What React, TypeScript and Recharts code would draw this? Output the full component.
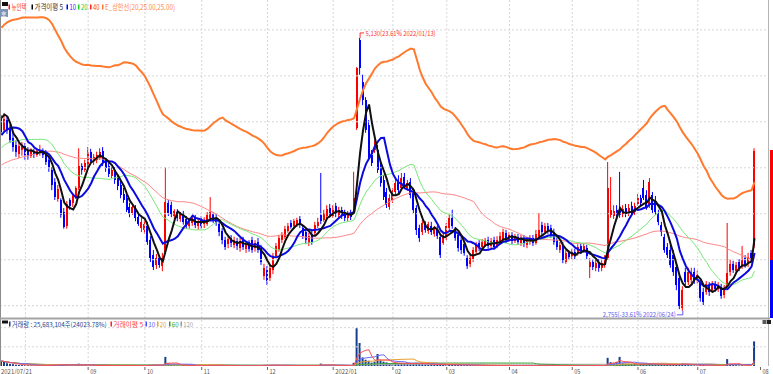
import React from 'react';
import { ComposedChart, Bar, Line, XAxis, YAxis, ReferenceLine, ReferenceDot } from 'recharts';

// closes before 2021/07/21, read back from where the 5/10/20/40 averages start
const priorCloses = [
  3800, 3820, 3850, 3790, 3840, 3880, 3860, 3900, 3870, 3830,
  3880, 3910, 3890, 3850, 3870, 3920, 3900, 3880, 3910, 3940,
  3900, 3960, 4010, 4050, 4030, 4080, 4100, 4060, 4090, 4120,
  4150, 4110, 4150, 4120, 4130, 4165, 4280, 4420, 4560, 4605,
];

const opens = [
  4435, 4330, 4415, 4345, 4260, 4200, 4120, 4155, 4190, 4155,
  4105, 4145, 4110, 4130, 4145, 4130, 4070, 3980, 3875, 3730,
  3720, 3615, 3495, 3720, 3695, 3745, 3825, 4015, 3980, 4015,
  4140, 4060, 4070, 4085, 4145, 4050, 4015, 3930, 3980, 3910,
  3850, 3770, 3735, 3660, 3605, 3650, 3570, 3475, 3460, 3495,
  3370, 3240, 3155, 3215, 3145, 3270, 3695, 3675, 3580, 3615,
  3555, 3590, 3555, 3495, 3520, 3565, 3495, 3545, 3510, 3510,
  3565, 3600, 3565, 3510, 3450, 3370, 3335, 3390, 3330, 3365,
  3300, 3370, 3295, 3355, 3370, 3300, 3355, 3300, 3060, 3110,
  3040, 3110, 3235, 3285, 3370, 3400, 3450, 3520, 3495, 3510,
  3555, 3475, 3440, 3345, 3425, 3435, 3495, 3590, 3545, 3580,
  3650, 3580, 3670, 3590, 3635, 3605, 3565, 3605, 3615, 4345,
  5110, 4745, 4590, 4375, 4110, 4155, 4155, 4000, 3895, 3790,
  3660, 3720, 3790, 3895, 3825, 3920, 3825, 3875, 3790, 3650,
  3475, 3440, 3510, 3450, 3495, 3425, 3470, 3400, 3345, 3390,
  3475, 3565, 3460, 3415, 3370, 3335, 3215, 3165, 3205, 3270,
  3345, 3310, 3330, 3370, 3320, 3370, 3320, 3345, 3370, 3435,
  3370, 3415, 3365, 3400, 3345, 3390, 3330, 3355, 3390, 3345,
  3405, 3505, 3440, 3495, 3475, 3440, 3370, 3285, 3330, 3180,
  3260, 3225, 3270, 3260, 3320, 3275, 3300, 3135, 3180, 3130,
  3180, 3130, 3155, 3215, 3590, 3580, 3635, 3650, 3600, 3650,
  3600, 3670, 3615, 3685, 3735, 3825, 3765, 3675, 3765, 3720,
  3610, 3505, 3400, 3310, 3285, 3240, 3135, 3040, 2780, 3095,
  3005, 3025, 3095, 3025, 3000, 2920, 2920, 2980, 2935, 2990,
  2945, 2965, 2895, 2965, 3095, 3165, 3100, 3180, 3145, 3215,
  3165, 3260, 3320,
];

const highs = [
  4460, 4475, 4450, 4375, 4310, 4240, 4215, 4225, 4215, 4180,
  4170, 4165, 4170, 4200, 4170, 4155, 4095, 4005, 3910, 3850,
  3735, 3650, 3710, 3735, 3780, 3840, 4170, 4040, 4070, 4180,
  4165, 4120, 4140, 4170, 4180, 4085, 4040, 4005, 4005, 3945,
  3895, 3825, 3765, 3695, 3685, 3675, 3605, 3565, 3545, 3530,
  3405, 3285, 3250, 3240, 3260, 4005, 3720, 3705, 3640, 3640,
  3615, 3625, 3580, 3565, 3590, 3590, 3555, 3580, 3570, 3615,
  3745, 3615, 3600, 3535, 3475, 3400, 3405, 3415, 3400, 3390,
  3390, 3400, 3355, 3370, 3400, 3370, 3390, 3330, 3165, 3145,
  3155, 3260, 3345, 3415, 3440, 3495, 3520, 3545, 3555, 3565,
  3580, 3495, 3470, 3435, 3450, 3530, 3565, 3955, 3635, 3675,
  3685, 3675, 3695, 3660, 3660, 3635, 3625, 3635, 3965, 4875,
  5130, 4810, 4615, 4415, 4155, 4240, 4200, 4040, 3935, 3825,
  3770, 3825, 3910, 3935, 3955, 3955, 3895, 3910, 3825, 3675,
  3505, 3545, 3535, 3530, 3530, 3495, 3495, 3425, 3440, 3520,
  3590, 3635, 3485, 3450, 3405, 3365, 3240, 3240, 3310, 3355,
  3370, 3380, 3390, 3400, 3390, 3400, 3405, 3440, 3470, 3460,
  3440, 3440, 3425, 3425, 3415, 3415, 3400, 3415, 3415, 3460,
  3605, 3530, 3520, 3520, 3505, 3470, 3405, 3355, 3355, 3285,
  3285, 3295, 3295, 3335, 3345, 3345, 3330, 3215, 3205, 3200,
  3205, 3200, 3240, 4050, 3920, 3675, 3675, 3965, 3675, 3685,
  3685, 3705, 3695, 3770, 3765, 3895, 3805, 3910, 3790, 3755,
  3635, 3530, 3425, 3345, 3330, 3285, 3180, 3075, 2970, 3130,
  3130, 3130, 3130, 3105, 3025, 2955, 3015, 3005, 3015, 3015,
  3005, 2990, 2980, 3520, 3200, 3190, 3180, 3205, 3320, 3240,
  3260, 3285, 4170,
];

const lows = [
  4285, 4310, 4295, 4215, 4140, 4095, 4085, 4105, 4070, 4070,
  4085, 4085, 4095, 4105, 4085, 4025, 3965, 3805, 3720, 3705,
  3565, 3470, 3470, 3635, 3660, 3730, 3805, 3940, 3965, 4000,
  4035, 4025, 4040, 4070, 4015, 3965, 3920, 3910, 3860, 3805,
  3735, 3695, 3615, 3570, 3590, 3535, 3495, 3440, 3425, 3330,
  3180, 3110, 3120, 3130, 3100, 3250, 3580, 3570, 3555, 3535,
  3530, 3505, 3470, 3470, 3495, 3475, 3460, 3470, 3475, 3495,
  3535, 3520, 3495, 3405, 3335, 3285, 3300, 3310, 3300, 3285,
  3270, 3285, 3260, 3270, 3260, 3270, 3260, 3155, 3025, 2980,
  3015, 3075, 3215, 3270, 3345, 3380, 3435, 3470, 3470, 3485,
  3475, 3380, 3335, 3320, 3330, 3415, 3475, 3510, 3530, 3555,
  3565, 3565, 3570, 3565, 3555, 3535, 3535, 3545, 3600, 4330,
  4810, 4545, 4305, 4070, 4015, 4130, 3955, 3835, 3720, 3650,
  3635, 3695, 3765, 3780, 3805, 3815, 3800, 3735, 3605, 3415,
  3355, 3415, 3435, 3425, 3415, 3400, 3380, 3215, 3330, 3370,
  3460, 3470, 3365, 3270, 3250, 3235, 3120, 3135, 3180, 3240,
  3275, 3295, 3310, 3295, 3295, 3285, 3300, 3330, 3355, 3345,
  3355, 3335, 3345, 3330, 3320, 3310, 3300, 3330, 3320, 3330,
  3390, 3415, 3425, 3425, 3390, 3330, 3285, 3260, 3170, 3165,
  3200, 3205, 3205, 3235, 3250, 3260, 3205, 3040, 3110, 3100,
  3095, 3100, 3130, 3200, 3565, 3555, 3555, 3565, 3570, 3570,
  3580, 3580, 3590, 3670, 3670, 3720, 3635, 3650, 3605, 3590,
  3500, 3405, 3260, 3215, 3130, 3060, 2935, 2770, 2755, 2980,
  2980, 2995, 2990, 2995, 2835, 2805, 2895, 2885, 2910, 2920,
  2920, 2860, 2865, 2935, 3060, 3085, 3075, 3100, 3120, 3130,
  3135, 3190, 3300,
];

const closes = [
  4310, 4425, 4330, 4240, 4180, 4140, 4190, 4200, 4110, 4105,
  4155, 4120, 4145, 4155, 4110, 4050, 4000, 3850, 3745, 3815,
  3590, 3485, 3685, 3670, 3755, 3825, 4015, 3980, 4040, 4140,
  4060, 4095, 4110, 4140, 4040, 4000, 3945, 3980, 3895, 3840,
  3765, 3720, 3635, 3600, 3660, 3565, 3510, 3530, 3510, 3355,
  3215, 3135, 3215, 3155, 3215, 3705, 3605, 3600, 3625, 3565,
  3600, 3530, 3495, 3545, 3565, 3505, 3535, 3495, 3545, 3590,
  3615, 3545, 3520, 3440, 3370, 3310, 3380, 3345, 3370, 3320,
  3365, 3310, 3335, 3295, 3285, 3345, 3285, 3180, 3130, 3015,
  3130, 3235, 3320, 3390, 3415, 3470, 3495, 3485, 3535, 3545,
  3505, 3405, 3370, 3405, 3355, 3505, 3530, 3535, 3605, 3640,
  3590, 3650, 3600, 3635, 3580, 3565, 3600, 3570, 3735, 4870,
  4870, 4590, 4330, 4095, 4040, 4215, 3980, 3870, 3745, 3675,
  3735, 3780, 3870, 3805, 3910, 3840, 3870, 3765, 3635, 3460,
  3390, 3520, 3460, 3510, 3440, 3475, 3405, 3240, 3415, 3495,
  3565, 3495, 3390, 3300, 3285, 3260, 3145, 3215, 3285, 3330,
  3300, 3355, 3370, 3320, 3365, 3310, 3370, 3405, 3440, 3370,
  3415, 3365, 3400, 3355, 3390, 3335, 3370, 3390, 3345, 3425,
  3460, 3440, 3495, 3450, 3415, 3355, 3310, 3330, 3200, 3260,
  3225, 3270, 3235, 3310, 3275, 3320, 3235, 3180, 3135, 3170,
  3130, 3170, 3200, 3825, 3635, 3625, 3580, 3590, 3640, 3600,
  3650, 3605, 3670, 3735, 3695, 3735, 3660, 3875, 3635, 3615,
  3525, 3440, 3285, 3240, 3155, 3095, 2980, 2800, 2935, 3005,
  3095, 3095, 3025, 3065, 2865, 2835, 2990, 2920, 2990, 2945,
  2980, 2885, 2955, 3085, 3165, 3110, 3155, 3130, 3200, 3155,
  3225, 3215, 4150,
];

// volume in thousand shares
const volumes = [
  5200, 4100, 2900, 2300, 1900, 1400, 1100, 900, 1000, 700,
  600, 500, 650, 600, 450, 700, 800, 1300, 1200, 900,
  1100, 1400, 1500, 800, 600, 700, 2400, 1000, 600, 800,
  500, 400, 450, 600, 700, 450, 400, 350, 450, 500,
  550, 450, 650, 500, 350, 450, 550, 400, 450, 900,
  1200, 1400, 800, 600, 1000, 9500, 2800, 1400, 900, 700,
  600, 500, 450, 500, 400, 450, 350, 400, 450, 600,
  1300, 600, 450, 550, 600, 550, 450, 350, 400, 350,
  450, 400, 350, 300, 400, 350, 450, 800, 1200, 1000,
  700, 900, 800, 600, 550, 600, 500, 450, 400, 450,
  350, 550, 500, 450, 400, 600, 550, 2500, 1200, 900,
  600, 700, 550, 500, 450, 400, 450, 350, 3300, 39500,
  24000, 9000, 6500, 5500, 3500, 4500, 12500, 6000, 4500, 3800,
  3000, 2800, 3200, 2600, 3000, 2400, 2200, 2600, 3000, 3300,
  2500, 2000, 1800, 1600, 1500, 1400, 1300, 1800, 1500, 1400,
  1300, 1200, 1100, 1300, 1000, 900, 1000, 800, 700, 650,
  500, 450, 400, 450, 400, 400, 350, 500, 550, 400,
  450, 400, 350, 400, 450, 400, 350, 400, 500, 600,
  1300, 700, 550, 450, 400, 450, 500, 400, 650, 550,
  400, 350, 300, 350, 300, 350, 400, 900, 550, 450,
  400, 350, 450, 8500, 4000, 3000, 4200, 9500, 3000, 2400,
  2100, 1900, 1700, 1500, 2000, 2300, 2100, 2700, 1700, 1300,
  1400, 1500, 1600, 1300, 1400, 1500, 1800, 2200, 2700, 1600,
  1000, 800, 700, 600, 900, 1000, 700, 600, 500, 450,
  400, 550, 450, 7200, 2300, 1200, 900, 700, 1000, 600,
  800, 107, 25683,
];

const monthTickIdx = [0, 8, 29, 48, 67, 89, 111, 131, 149, 170, 191, 213, 233, 254];
const monthTickText = ['2021/07/21', '', '09', '10', '11', '12', '2022/01', '02', '03', '04', '05', '06', '07', '08'];
const gridMonthIdx = [8, 29, 48, 67, 89, 111, 131, 149, 170, 191, 213, 233];
const priceGridLevels = [2800, 3200, 3600, 4000, 4400, 4800, 5200];
const volumeGridLevels = [20000, 40000];
const emptySlots = 4;

const highMark = { i: 120, price: 5130, text: '5,130(23.61% 2022/01/13)' };
const lowMark = { i: 228, price: 2755, text: '2,755(-33.61% 2022/06/24)' };

function movingAverage(values: number[], n: number, prior: number[] = []) {
  const all = [...prior, ...values];
  return values.map((_, i) => {
    const end = prior.length + i + 1;
    const win = all.slice(Math.max(0, end - n), end);
    return win.reduce((a, b) => a + b, 0) / win.length;
  });
}

const ma5 = movingAverage(closes, 5, priorCloses);
const ma10 = movingAverage(closes, 10, priorCloses);
const ma20 = movingAverage(closes, 20, priorCloses);
const ma40 = movingAverage(closes, 40, priorCloses);
const vma5 = movingAverage(volumes, 5);
const vma10 = movingAverage(volumes, 10);
const vma20 = movingAverage(volumes, 20);
const vma60 = movingAverage(volumes, 60);
const vma120 = movingAverage(volumes, 120);

const rows: any[] = [
  ...closes.map((c, i) => ({
    i,
    o: opens[i],
    h: highs[i],
    l: lows[i],
    c,
    ma5: ma5[i],
    ma10: ma10[i],
    ma20: ma20[i],
    ma40: ma40[i],
    env: ma20[i] * 1.25, // E_상한선(20, 25%)
    v: volumes[i],
    vma5: vma5[i],
    vma10: vma10[i],
    vma20: vma20[i],
    vma60: vma60[i],
    vma120: vma120[i],
  })),
  ...Array.from({ length: emptySlots }, (_, k) => ({ i: closes.length + k })),
];

const FONT = "'Noto Sans CJK KR', 'Liberation Sans', sans-serif";
const GRID = '#d6d6d6';

const Candle = (props: any) => {
  const { x, y, width, height, payload } = props;
  if (!payload || payload.o == null) return <g />;
  const { o, h, l, c } = payload;
  const span = h - l || 1;
  const yAt = (v: number) => y + ((h - v) / span) * height;
  const color = c >= o ? '#ff0000' : '#0000ff';
  const top = yAt(Math.max(o, c));
  const bot = yAt(Math.min(o, c));
  const cx = x + width / 2;
  return (
    <g>
      <line x1={cx} x2={cx} y1={y} y2={y + height} stroke={color} strokeWidth={1} />
      <rect x={x} y={top} width={width} height={Math.max(1, bot - top)} fill={color} shapeRendering="crispEdges" />
    </g>
  );
};

const HighNote = (props: any) => {
  const { cx, cy } = props;
  return (
    <g>
      <path d={`M${cx},${cy} V${cy - 5} H${cx + 4}`} stroke="#ff3030" fill="none" strokeWidth={1} />
      <text x={cx + 5.5} y={cy - 2} fontSize={7} fontFamily={FONT} fill="#ff3030" textLength={70} lengthAdjust="spacingAndGlyphs">
        {highMark.text}
      </text>
    </g>
  );
};

const LowNote = (props: any) => {
  const { cx, cy } = props;
  return (
    <g>
      <path d={`M${cx},${cy} V${cy + 4} H${cx - 6}`} stroke="#5a5af0" fill="none" strokeWidth={1} />
      <text x={cx - 7} y={cy + 6.5} fontSize={7} fontFamily={FONT} fill="#5a5af0" textAnchor="end" textLength={73} lengthAdjust="spacingAndGlyphs">
        {lowMark.text}
      </text>
    </g>
  );
};

const MonthTick = (props: any) => {
  const { x, y, payload } = props;
  const k = monthTickIdx.indexOf(payload.value);
  if (k < 0 || !monthTickText[k]) return <g />;
  const label = monthTickText[k];
  const first = k === 0;
  return (
    <g>
      {!first && <line x1={x} x2={x} y1={y + 1} y2={y + 4} stroke="#666" strokeWidth={1} />}
      <text
        x={first ? 1 : x + 2}
        y={y + 7.5}
        fontSize={7}
        fontFamily={FONT}
        fill="#555"
        textLength={label.length * 3.1}
        lengthAdjust="spacingAndGlyphs"
      >
        {label}
      </text>
    </g>
  );
};

const legendMain = [
  { x: 8.5, text: '뉴인텍', w: 15, color: '#ff2a2a', mark: '#ff2020' },
  { x: 31.5, text: '가격이평 5', w: 28.5, color: '#333333', mark: '#000000' },
  { x: 66.5, text: '10', w: 6.5, color: '#1a1aff', mark: '#0000ff' },
  { x: 78, text: '20', w: 6.5, color: '#2cc42c', mark: '#22cc22' },
  { x: 90, text: '40', w: 6.5, color: '#ff3a3a', mark: '#ff2020' },
  { x: 102, text: 'E_상한선(20,25.00,25.00)', w: 70, color: '#ff8a4a', mark: '#ff7a2e' },
];

const legendVolume = [
  { x: 9, text: '거래량 : 25,683,104주(24023.78%)', w: 95, color: '#24408c', mark: '#1a3d8c' },
  { x: 110.5, text: '거래이평 5', w: 30, color: '#ff3a3a', mark: '#ff2020' },
  { x: 145.5, text: '10', w: 7, color: '#5a5aff', mark: '#4a4aff' },
  { x: 157, text: '20', w: 6.5, color: '#e8a030', mark: '#e8a030' },
  { x: 169, text: '60', w: 7, color: '#3aa83a', mark: '#2a9a2a' },
  { x: 180.5, text: '120', w: 10, color: '#a8a8a8', mark: '#999999' },
];

export default function App() {
  return (
    <div style={{ position: 'relative', width: 773, height: 374, overflow: 'hidden', background: '#fff' }}>
      <style>{'body{margin:0;background:#fff}'}</style>

      <div style={{ position: 'absolute', left: 0, top: 0 }}>
        <ComposedChart width={768} height={318} data={rows} margin={{ top: 0, right: 0, bottom: 0, left: 0 }}>
          <XAxis dataKey="i" hide />
          <YAxis hide domain={[2693, 5460]} allowDataOverflow />
          {priceGridLevels.map((p) => (
            <ReferenceLine key={`p${p}`} y={p} stroke={GRID} strokeDasharray="2 2" />
          ))}
          {gridMonthIdx.map((m) => (
            <ReferenceLine key={`m${m}`} x={m} stroke={GRID} strokeDasharray="2 2" />
          ))}
          <Line dataKey="ma40" stroke="#ff8686" strokeWidth={1} dot={false} activeDot={false} isAnimationActive={false} />
          <Line dataKey="ma20" stroke="#76e876" strokeWidth={1} dot={false} activeDot={false} isAnimationActive={false} />
          <Bar
            dataKey={(d: any) => (d.o == null ? null : [d.l, d.h])}
            barSize={2}
            shape={Candle}
            isAnimationActive={false}
          />
          <Line dataKey="ma10" stroke="#0a0ae0" strokeWidth={2} dot={false} activeDot={false} isAnimationActive={false} />
          <Line dataKey="ma5" stroke="#101010" strokeWidth={2} dot={false} activeDot={false} isAnimationActive={false} />
          <Line dataKey="env" stroke="#ff7a2e" strokeWidth={2} dot={false} activeDot={false} isAnimationActive={false} />
          <ReferenceDot x={highMark.i} y={highMark.price} r={0} shape={HighNote} />
          <ReferenceDot x={lowMark.i} y={lowMark.price} r={0} shape={LowNote} />
        </ComposedChart>
      </div>

      <div style={{ position: 'absolute', left: 0, top: 320 }}>
        <ComposedChart width={773} height={54} data={rows} margin={{ top: 0, right: 5, bottom: 0, left: 0 }}>
          <XAxis
            dataKey="i"
            height={8}
            interval={0}
            tickLine={false}
            axisLine={false}
            tickSize={0}
            tickMargin={0}
            tick={MonthTick}
          />
          <YAxis hide domain={[0, 48000]} allowDataOverflow />
          {volumeGridLevels.map((p) => (
            <ReferenceLine key={`v${p}`} y={p} stroke={GRID} strokeDasharray="2 2" />
          ))}
          {gridMonthIdx.map((m) => (
            <ReferenceLine key={`vm${m}`} x={m} stroke={GRID} strokeDasharray="2 2" />
          ))}
          <Bar dataKey="v" barSize={2} fill="#173e8c" isAnimationActive={false} />
          <Line dataKey="vma120" stroke="#a8a8a8" strokeWidth={1} dot={false} activeDot={false} isAnimationActive={false} />
          <Line dataKey="vma60" stroke="#3aa83a" strokeWidth={1} dot={false} activeDot={false} isAnimationActive={false} />
          <Line dataKey="vma20" stroke="#e8a030" strokeWidth={1} dot={false} activeDot={false} isAnimationActive={false} />
          <Line dataKey="vma10" stroke="#6a6aff" strokeWidth={1} dot={false} activeDot={false} isAnimationActive={false} />
          <Line dataKey="vma5" stroke="#ff5050" strokeWidth={1} dot={false} activeDot={false} isAnimationActive={false} />
        </ComposedChart>
      </div>

      <svg
        width={773}
        height={374}
        style={{ position: 'absolute', left: 0, top: 0, pointerEvents: 'none' }}
      >
        {/* frame */}
        <line x1={0.5} x2={0.5} y1={0} y2={366} stroke="#8c8c8c" />
        <line x1={768.5} x2={768.5} y1={0} y2={366} stroke="#b4b4b4" />
        <rect x={0} y={317.5} width={770} height={2} fill="#a4a4a4" />
        <rect x={770} y={150} width={3} height={110} fill="#ff0000" />
        <rect x={770} y={260} width={3} height={58} fill="#0000ff" />
        <rect x={762.5} y={320} width={4} height={4} fill="#5a5a5a" />
        <rect x={767} y={320} width={4} height={4} fill="#222" />

        {/* top-left icons */}
        <rect x={2} y={2} width={6} height={4} fill="#111" />
        <rect x={0} y={9} width={8} height={8} fill="#7d93b5" />
        <text x={1} y={15.5} fontSize={6} fontFamily={FONT} fill="#fff">호</text>

        {legendMain.map((e) => (
          <g key={e.text}>
            <rect x={e.x} y={4.5} width={1.5} height={5} fill={e.mark} />
            <text
              x={e.x + 3}
              y={9.8}
              fontSize={8}
              fontFamily={FONT}
              fill={e.color}
              textLength={e.w}
              lengthAdjust="spacingAndGlyphs"
            >
              {e.text}
            </text>
          </g>
        ))}

        <rect x={2} y={320.5} width={6} height={3} fill="#111" />
        {legendVolume.map((e) => (
          <g key={e.text}>
            <rect x={e.x} y={321.5} width={1.5} height={5} fill={e.mark} />
            <text
              x={e.x + 2.7}
              y={326.6}
              fontSize={6.5}
              fontFamily={FONT}
              fill={e.color}
              textLength={e.w}
              lengthAdjust="spacingAndGlyphs"
            >
              {e.text}
            </text>
          </g>
        ))}
      </svg>
    </div>
  );
}
